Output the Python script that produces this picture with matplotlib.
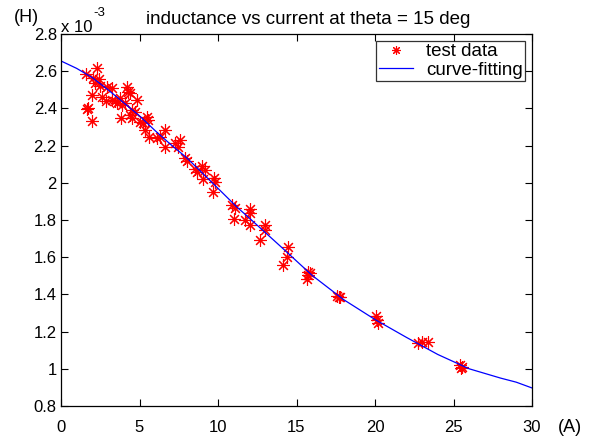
import matplotlib
matplotlib.use("Agg")
import matplotlib.pyplot as plt

plt.rcParams['font.family'] = ['Liberation Sans', 'DejaVu Sans']

# test data: current (A), inductance (x 1e-3 H)
test_current = [2.27, 1.59, 2.06, 2.44, 2.17, 2.48, 2.91, 3.23, 1.99, 2.59,
                2.85, 3.23, 3.44, 3.76, 3.55, 3.87, 4.08, 4.18, 4.29, 4.39,
                4.82, 4.50, 4.71, 1.64, 1.74, 1.96, 3.82, 4.39, 4.50, 5.03,
                5.24, 5.46, 5.56, 5.35, 5.62, 6.10, 6.31, 6.62, 6.62, 7.26,
                7.58, 7.47, 7.90, 8.01, 8.54, 8.64, 8.96, 9.17, 9.06, 9.75,
                9.81, 9.66, 10.87, 11.08, 12.04, 12.04, 11.02, 11.72, 12.04, 12.99,
                12.99, 12.68, 14.48, 14.38, 14.16, 15.75, 15.86, 15.65, 15.75, 17.56,
                17.77, 17.73, 20.06, 20.11, 20.21, 22.76, 22.97, 23.39, 25.41, 25.52,
                25.46]
test_inductance = [2.619, 2.583, 2.562, 2.556, 2.535, 2.520, 2.517, 2.508, 2.472, 2.463,
                   2.440, 2.445, 2.440, 2.454, 2.427, 2.418, 2.427, 2.517, 2.487, 2.481,
                   2.445, 2.391, 2.382, 2.397, 2.401, 2.332, 2.347, 2.365, 2.347, 2.328,
                   2.320, 2.355, 2.338, 2.284, 2.245, 2.239, 2.248, 2.284, 2.194, 2.212,
                   2.230, 2.194, 2.135, 2.117, 2.073, 2.060, 2.090, 2.069, 2.020, 2.024,
                   2.006, 1.952, 1.881, 1.863, 1.859, 1.839, 1.804, 1.800, 1.773, 1.773,
                   1.746, 1.692, 1.656, 1.603, 1.558, 1.522, 1.513, 1.481, 1.504, 1.391,
                   1.388, 1.384, 1.284, 1.262, 1.245, 1.140, 1.142, 1.142, 1.020, 1.011,
                   1.003]

# fitted curve samples
fit_current = [0, 1, 2, 3, 4, 5, 6, 7, 8, 10, 11.2, 12, 14, 16, 18, 20, 22, 23, 24,
               26, 28, 29, 30]
fit_inductance = [2.655, 2.615, 2.565, 2.50, 2.43, 2.36, 2.28, 2.205, 2.135, 1.97,
                  1.87, 1.81, 1.657, 1.502, 1.372, 1.265, 1.169, 1.123, 1.077,
                  1.000, 0.950, 0.928, 0.897]

xticks = [0, 5, 10, 15, 20, 25, 30]
yticks = [0.8, 1.0, 1.2, 1.4, 1.6, 1.8, 2.0, 2.2, 2.4, 2.6, 2.8]
yticklabels = ['0.8', '1', '1.2', '1.4', '1.6', '1.8', '2', '2.2', '2.4', '2.6', '2.8']

W, H = 604, 436
fig = plt.figure(figsize=(W / 100, H / 100), dpi=100)
L, R, T, B = 61, 532, 34, 406
ax = fig.add_axes([L / W, 1 - B / H, (R - L) / W, (B - T) / H])

asterisk = (8, 2, 0)
ax.plot(test_current, test_inductance, linestyle='none', marker=asterisk, color='red',
        markersize=9, markeredgewidth=0.8, label='test data')
ax.plot(fit_current, fit_inductance, color='blue', linewidth=0.9, label='curve-fitting')

ax.set_xlim(0, 30)
ax.set_ylim(0.8, 2.8)
ax.set_xticks(xticks)
ax.set_yticks(yticks)
ax.set_yticklabels(yticklabels)
ax.tick_params(direction='in', top=True, right=True, length=5, width=0.8,
               labelsize=12)
ax.tick_params(axis='x', pad=10)
ax.tick_params(axis='y', pad=3)
for s in ax.spines.values():
    s.set_linewidth(0.9)

fig.text(308 / W, 1 - 20 / H, 'inductance vs current at theta = 15 deg',
         fontsize=13.5, ha='center', va='center')

leg = ax.legend(loc='upper right', fontsize=13.5, frameon=True, fancybox=False,
                edgecolor='black', borderpad=0.15, handlelength=1.8,
                labelspacing=0.05, borderaxespad=0.35, handletextpad=0.7,
                markerscale=0.7)
leg.get_frame().set_linewidth(0.9)

fig.text(61 / W, 1 - 32 / H, 'x 10', fontsize=12, ha='left', va='baseline')
fig.text(93 / W, 1 - 16 / H, '-3', fontsize=9.5, ha='left', va='baseline')
fig.text(26 / W, 1 - 17 / H, '(H)', fontsize=13, ha='center', va='center')
fig.text(570 / W, 1 - 427 / H, '(A)', fontsize=13, ha='center', va='center')

fig.savefig('out.png', dpi=100)
